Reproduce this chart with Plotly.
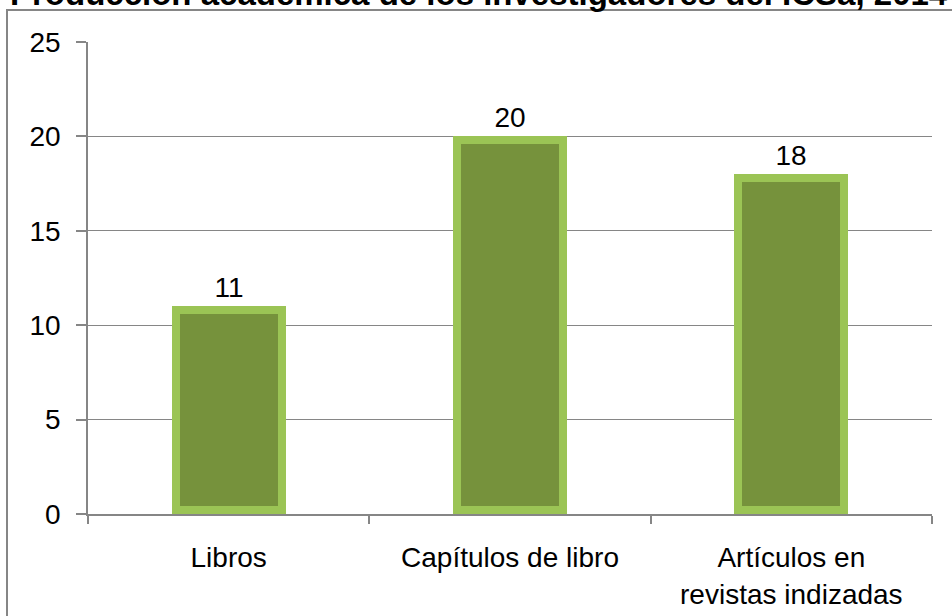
import plotly.graph_objects as go

categories = ["Libros", "Capítulos de libro", "Artículos en<br>revistas indizadas"]
values = [11, 20, 18]
y_ticks = [0, 5, 10, 15, 20, 25]
title_text = "Producción académica de los investigadores del ICSa, 2014"

FONT = "Liberation Sans, Arial, sans-serif"
GRID = "#868686"
LIGHT = "#9BC455"
DARK = "#76923C"

W, H = 952, 616
plot_left, plot_right, plot_top, plot_bottom = 88, 932, 42, 514
L, T = plot_left, plot_top
R, B = W - plot_right, H - plot_bottom
pw = plot_right - plot_left
ph = plot_bottom - plot_top
YMAX = 25

cat_px = pw / len(categories)
outer_w = 114 / cat_px
bevel_px = 8
inner_w = (114 - 2 * bevel_px) / cat_px
bevel_val = bevel_px * YMAX / ph


def px_x(x):
    return (x - plot_left) / pw


def px_y(y):
    return (plot_bottom - y) / ph


fig = go.Figure()
fig.add_trace(go.Bar(
    x=categories,
    y=values,
    width=outer_w,
    marker=dict(color=LIGHT, line=dict(width=0)),
    text=[str(v) for v in values],
    textposition="outside",
    textfont=dict(family=FONT, size=28, color="#000000"),
    cliponaxis=False,
))
fig.add_trace(go.Bar(
    x=categories,
    y=[v - 2 * bevel_val for v in values],
    base=bevel_val,
    width=inner_w,
    marker=dict(color=DARK, line=dict(width=0)),
    hoverinfo="skip",
))

fig.update_layout(
    width=W, height=H,
    margin=dict(l=L, r=R, t=T, b=B, pad=0, autoexpand=False),
    paper_bgcolor="white",
    plot_bgcolor="white",
    showlegend=False,
    barmode="overlay",
    bargap=0.0,
    font=dict(family=FONT, color="#000000"),
    xaxis=dict(
        type="category",
        automargin=False,
        tickson="boundaries",
        ticks="outside",
        ticklen=8,
        tickcolor=GRID,
        tickwidth=1.5,
        showline=True,
        linecolor=GRID,
        linewidth=1.5,
        showgrid=False,
        tickfont=dict(family=FONT, size=28, color="#000000"),
        ticklabelstandoff=18,
    ),
    yaxis=dict(
        range=[0, YMAX],
        automargin=False,
        tickvals=y_ticks,
        ticks="outside",
        ticklen=10,
        tickcolor=GRID,
        tickwidth=1.5,
        showline=True,
        linecolor=GRID,
        linewidth=1.5,
        showgrid=True,
        gridcolor=GRID,
        gridwidth=1,
        zeroline=False,
        tickfont=dict(family=FONT, size=28, color="#000000"),
        ticklabelstandoff=10,
    ),
)

# outer chart border (extends past the page on right and bottom)
fig.add_shape(
    type="rect", xref="paper", yref="paper",
    x0=px_x(7), x1=px_x(980),
    y0=px_y(650), y1=px_y(10),
    line=dict(color=GRID, width=2), fillcolor="rgba(0,0,0,0)", layer="below",
)

# title, partially cut off at the top of the page
fig.add_annotation(
    text="<b>" + title_text + "</b>",
    xref="paper", yref="paper",
    x=px_x(8), y=px_y(14),
    xanchor="left", yanchor="bottom",
    showarrow=False,
    font=dict(family=FONT, size=33, color="#000000"),
)

fig.write_html(
    "out.html",
    config={"displayModeBar": False},
    post_script="document.body.style.margin='0px';",
)
